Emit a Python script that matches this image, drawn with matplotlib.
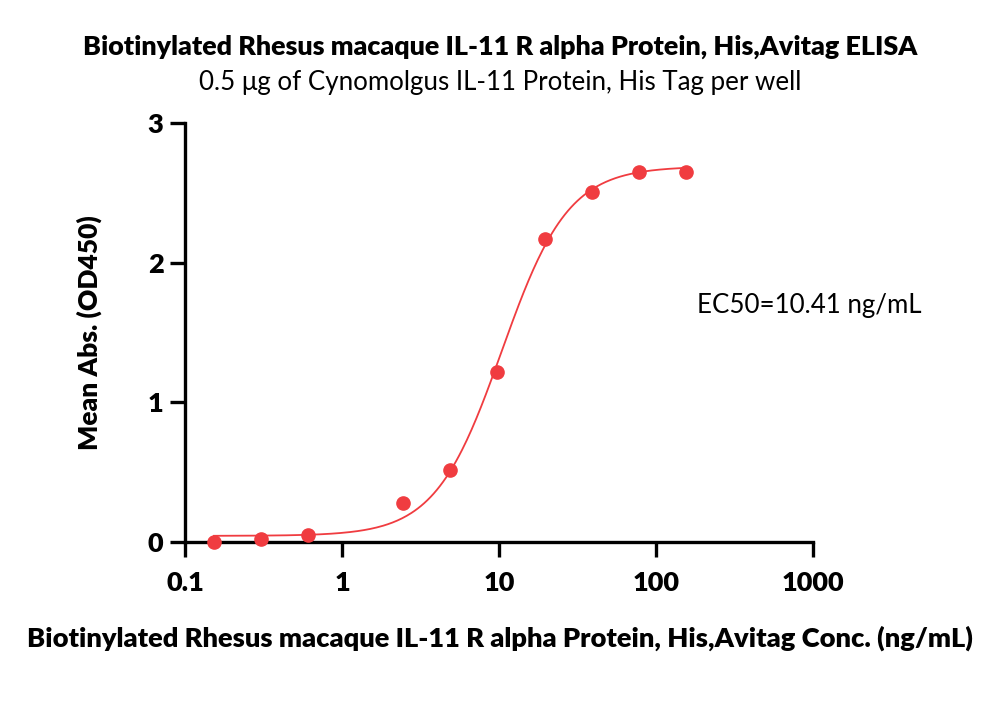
import numpy as np
import matplotlib.pyplot as plt

# concentrations (ng/mL) and mean OD450
conc = [0.153, 0.305, 0.61, 2.44, 4.88, 9.77, 19.53, 39.06, 78.13, 156.25]
od450 = [0.00, 0.02, 0.05, 0.28, 0.515, 1.22, 2.17, 2.51, 2.65, 2.65]

# 4PL fit parameters of the drawn curve
fit_bottom = 0.045
fit_top = 2.69
fit_ec50 = 10.41
fit_hill = 2.05

x_ticks = [0.1, 1, 10, 100, 1000]
x_tick_labels = ['0.1', '1', '10', '100', '1000']
y_ticks = [0, 1, 2, 3]

red = '#F03C40'
plt.rcParams['font.family'] = ['Lato', 'DejaVu Sans']

fig = plt.figure(figsize=(10, 7.2), dpi=100)
ax = fig.add_axes([0.185, 0.247, 0.628, 0.582])

xs = np.logspace(np.log10(conc[0]), np.log10(conc[-1]), 300)
ys = fit_bottom + (fit_top - fit_bottom) / (1 + (fit_ec50 / xs) ** fit_hill)
ax.plot(xs, ys, color=red, linewidth=1.3, zorder=2)
ax.plot(conc, od450, 'o', color=red, markersize=9.5, zorder=3, clip_on=False)

ax.set_xscale('log')
ax.set_xlim(0.1, 1000)
ax.set_ylim(0, 3)
ax.set_xticks(x_ticks)
ax.set_xticklabels(x_tick_labels)
ax.set_yticks(y_ticks)
ax.minorticks_off()

for side in ['top', 'right']:
    ax.spines[side].set_visible(False)
for side in ['left', 'bottom']:
    ax.spines[side].set_linewidth(2.4)
ax.tick_params(axis='both', width=2.4, length=10.5, labelsize=19.5, pad=5)
for lab in ax.get_xticklabels() + ax.get_yticklabels():
    lab.set_fontweight('heavy')
ax.tick_params(axis='x', pad=10)

ax.set_ylabel('Mean Abs. (OD450)', fontsize=19, fontweight='heavy', labelpad=33)
fig.text(0.5, 0.114, 'Biotinylated Rhesus macaque IL-11 R alpha Protein, His,Avitag Conc. (ng/mL)',
         ha='center', va='center', fontsize=19.6, fontweight='heavy')

fig.text(0.5, 0.935, 'Biotinylated Rhesus macaque IL-11 R alpha Protein, His,Avitag ELISA',
         ha='center', va='center', fontsize=19.4, fontweight='heavy')
fig.text(0.5, 0.886, '0.5 \u03bcg of Cynomolgus IL-11 Protein, His Tag per well',
         ha='center', va='center', fontsize=18.6)

fig.text(0.809, 0.576, 'EC50=10.41 ng/mL', ha='center', va='center', fontsize=18.6)

fig.savefig('out.png', dpi=100)
